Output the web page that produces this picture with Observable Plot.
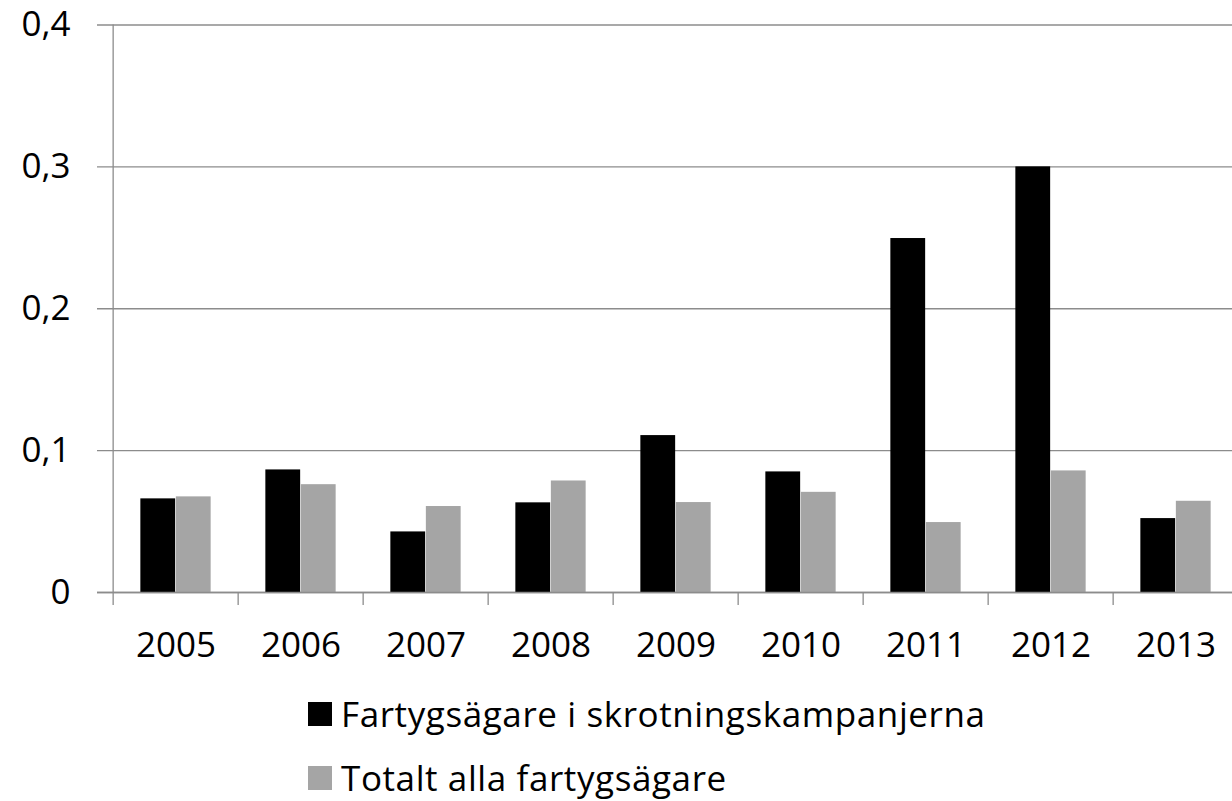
<!DOCTYPE html>
<html><head><meta charset="utf-8">
<script src="https://cdn.jsdelivr.net/npm/d3@7"></script>
<script src="https://cdn.jsdelivr.net/npm/@observablehq/plot@0.6"></script>
<style>
body{margin:0;background:#fff;font-family:"Open Sans",sans-serif;overflow:hidden;}
#chart svg{display:block;}
#legend{padding-left:308px;padding-top:2px;}
.row{display:flex;align-items:center;height:44px;line-height:44px;font-size:35px;letter-spacing:0.6px;color:#000;margin-bottom:20px;white-space:nowrap;}
.sw{width:24px;height:24px;margin-right:9px;flex:none;}
</style></head>
<body><div id="chart"></div><div id="legend"></div>
<script>
const years = ["2005","2006","2007","2008","2009","2010","2011","2012","2013"];
const seriesNames = ["Fartygsägare i skrotningskampanjerna","Totalt alla fartygsägare"];
const skrotning = [0.066,0.0864,0.0427,0.0632,0.1106,0.085,0.2495,0.300,0.0521];
const totalt = [0.0674,0.076,0.0606,0.0786,0.0634,0.0706,0.0493,0.0857,0.0643];
const yTicks = [0,0.1,0.2,0.3,0.4];
const colors = ["#000000","#a5a5a5"];

const rowsA = years.map((y,i)=>({year:y, series:seriesNames[0], value:skrotning[i]}));
const rowsB = years.map((y,i)=>({year:y, series:seriesNames[1], value:totalt[i]}));

const xRange = [110, 1241.3];
const step = (xRange[1]-xRange[0])/years.length;
const barW = 35.5;
const outer = (step - 2*barW)/2;
const grid = "#8c8c8c";
const fmt = d => d === 0 ? "0" : String(d).replace(".", ",");

const chart = Plot.plot({
  width: 1232, height: 690,
  marginLeft: 110, marginRight: 0, marginTop: 24.5, marginBottom: 98,
  x: {domain: years, range: xRange, padding: 0, label: null},
  y: {domain: [0, 0.4], label: null},
  style: {fontFamily: "'Open Sans', sans-serif", fontSize: "35px", color: "#000", background: "#fff"},
  marks: [
    Plot.ruleY(yTicks, {stroke: grid, strokeWidth: 1.3, insetLeft: -13}),
    Plot.ruleX([years[0]], {x: d => d, dx: -step/2, y1: 0, y2: yTicks[yTicks.length-1], stroke: grid, strokeWidth: 1.3}),
    Plot.barY(rowsA, {x: "year", y: "value", fill: colors[0], insetLeft: outer, insetRight: outer + barW}),
    Plot.barY(rowsB, {x: "year", y: "value", fill: colors[1], insetLeft: outer + barW, insetRight: outer}),
    Plot.ruleY([0], {stroke: grid, strokeWidth: 1.3, insetLeft: -13}),
    Plot.ruleX(years, {x: d => d, dx: -step/2, y1: 0, y2: 0, insetBottom: -13, stroke: grid, strokeWidth: 1.3}),
    Plot.axisX({tickSize: 0, tickPadding: 40, fontSize: 35, fill: "#000", label: null}),
    Plot.axisY({ticks: yTicks, tickSize: 0, tickPadding: 40, tickFormat: fmt, fontSize: 35, fill: "#000", label: null})
  ]
});
document.getElementById("chart").appendChild(chart);

const legend = document.getElementById("legend");
seriesNames.forEach((name, i) => {
  const row = document.createElement("div");
  row.className = "row";
  const sw = document.createElement("span");
  sw.className = "sw";
  sw.style.background = colors[i];
  const t = document.createElement("span");
  t.textContent = name;
  row.appendChild(sw); row.appendChild(t);
  legend.appendChild(row);
});
</script>
</body></html>
